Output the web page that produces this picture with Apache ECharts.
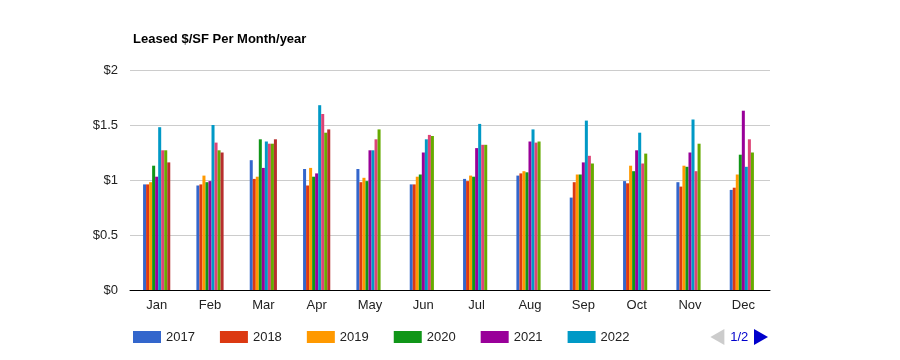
<!DOCTYPE html>
<html>
<head>
<meta charset="utf-8">
<script src="https://cdn.jsdelivr.net/npm/echarts@6/dist/echarts.min.js"></script>
<style>html,body{margin:0;padding:0;background:#fff;}#c{width:900px;height:360px;}</style>
</head>
<body>
<div id="c"></div>
<script>
const months = ['Jan','Feb','Mar','Apr','May','Jun','Jul','Aug','Sep','Oct','Nov','Dec'];
const yearNames = ['2017','2018','2019','2020','2021','2022','2023','2024','2025'];
const colors = ['#3366cc','#dc3912','#ff9900','#109618','#990099','#0099c6','#dd4477','#66aa00','#b82e2e'];
const yTicks = ['$0','$0.5','$1','$1.5','$2'];
const v2017 = [0.96,0.95,1.18,1.10,1.10,0.96,1.01,1.04,0.84,0.99,0.98,0.91];
const v2018 = [0.96,0.96,1.01,0.95,0.98,0.96,0.99,1.06,0.98,0.97,0.94,0.93];
const v2019 = [0.98,1.04,1.03,1.11,1.02,1.03,1.04,1.08,1.05,1.13,1.13,1.05];
const v2020 = [1.13,0.98,1.37,1.03,0.99,1.05,1.03,1.07,1.05,1.08,1.12,1.23];
const v2021 = [1.03,0.99,1.11,1.06,1.27,1.25,1.29,1.35,1.16,1.27,1.25,1.63];
const v2022 = [1.48,1.50,1.35,1.68,1.27,1.37,1.51,1.46,1.54,1.43,1.55,1.12];
const v2023 = [1.27,1.34,1.33,1.60,1.37,1.41,1.32,1.34,1.22,1.15,1.08,1.37];
const v2024 = [1.27,1.27,1.33,1.43,1.46,1.40,1.32,1.35,1.15,1.24,1.33,1.25];
const v2025 = [1.16,1.25,1.37,1.46,null,null,null,null,null,null,null,null];
const seriesValues = [v2017,v2018,v2019,v2020,v2021,v2022,v2023,v2024,v2025];

const chart = echarts.init(document.getElementById('c'), null, {renderer:'canvas'});
const font = 'Liberation Sans, Arial, sans-serif';
chart.setOption({
  animation: false,
  color: colors,
  textStyle: {fontFamily: font},
  title: {
    text: 'Leased $/SF Per Month/year',
    left: 128, top: 28,
    textStyle: {fontFamily: font, fontSize: 13, fontWeight: 'bold', color: '#000'}
  },
  grid: {left: 130, right: 130, top: 70, bottom: 70, containLabel: false},
  legend: {
    type: 'scroll',
    orient: 'horizontal',
    left: 128, top: 324, width: 635,
    itemWidth: 28, itemHeight: 12, itemGap: 25,
    icon: 'rect',
    data: yearNames,
    textStyle: {fontFamily: font, fontSize: 13, color: '#222'},
    pageIcons: {horizontal: ['path://M0,0L14,-8L14,8z', 'path://M14,0L0,-8L0,8z']},
    pageIconSize: [14, 16],
    pageIconColor: '#0000cc',
    pageIconInactiveColor: '#cccccc',
    pageButtonItemGap: 0,
    pageButtonGap: 60,
    pageTextStyle: {color: '#0000cc', fontFamily: font, fontSize: 13},
    pageFormatter: '{current}/{total}'
  },
  xAxis: {
    type: 'category',
    data: months,
    axisLine: {lineStyle: {color: '#000', width: 1}},
    axisTick: {show: false},
    axisLabel: {fontFamily: font, fontSize: 13, color: '#222', margin: 9}
  },
  yAxis: {
    type: 'value',
    min: 0, max: 2, interval: 0.5,
    axisLine: {show: false},
    axisTick: {show: false},
    splitLine: {lineStyle: {color: '#cccccc'}},
    axisLabel: {
      fontFamily: font, fontSize: 13, color: '#222', margin: 12,
      formatter: function (v) { return yTicks[Math.round(v / 0.5)]; }
    }
  },
  series: yearNames.map(function (n, i) {
    return {
      name: n, type: 'bar', data: seriesValues[i],
      barGap: '0%', barCategoryGap: '49%'
    };
  })
});
</script>
</body>
</html>
